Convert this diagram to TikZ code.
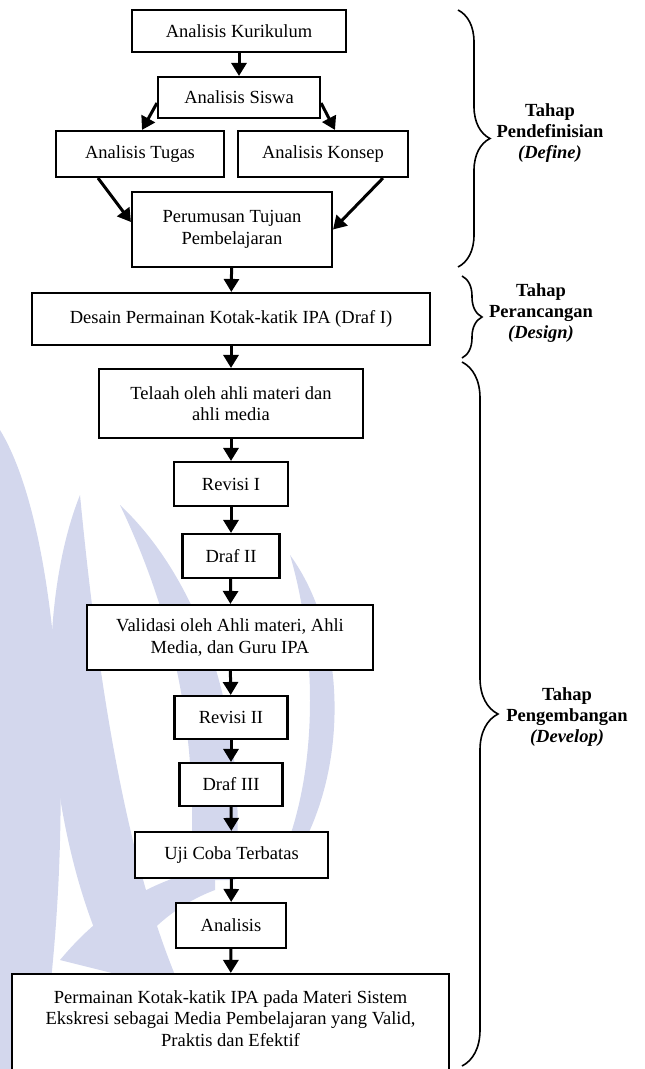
\documentclass[tikz,border=0pt]{standalone}
\usepackage{fontspec}
\setmainfont{Liberation Serif}
\usetikzlibrary{arrows.meta,decorations.pathreplacing}
\definecolor{wmark}{RGB}{211,215,237}

\begin{document}
\begin{tikzpicture}[x=1pt,y=-1pt,
    box/.style={draw,line width=2.1pt,fill=white,inner sep=0pt,align=center,
      font=\fontsize{18.5}{21.5}\selectfont},
    arr/.style={line width=3pt,-{Triangle[width=15pt,length=13pt]}},
    brc/.style={line width=1.6pt,decorate,decoration={brace,amplitude=#1}},
    lbl/.style={align=center,font=\fontsize{18.5}{21}\selectfont\bfseries}]
  \useasboundingbox (0,0) rectangle (645,1069);
  \clip (0,0) rectangle (645,1069);
  % watermark
  \fill[wmark](0,430) .. controls (55,520) and (75,760) .. (50,990) -- (14,1069) -- (0,1069) -- cycle;
  \fill[wmark](80,495) .. controls (30,620) and (45,840) .. (115,975) -- (175,975) .. controls (120,840) and (95,650) .. (80,495) -- cycle;
  \fill[wmark](120,505) .. controls (200,580) and (250,720) .. (235,880) -- (190,880) .. controls (200,740) and (175,620) .. (120,505) -- cycle;
  \fill[wmark](60,960) .. controls (110,900) and (160,880) .. (215,865) -- (215,890) .. controls (175,905) and (140,935) .. (120,975) -- cycle;
  \fill[wmark](290,555) .. controls (345,630) and (350,760) .. (300,850) -- (285,850) .. controls (320,760) and (315,640) .. (290,555) -- cycle;
  % boxes
  \foreach \n/\x/\y/\w/\h/\t in {1/239/31/214/42/{Analisis Kurikulum},
      2/239/97.5/162/41/{Analisis Siswa}, 3/140/154/168/46/{Analisis Tugas},
      4/323/154/170/46/{Analisis Konsep},
      5/232/229.5/200/75/{Perumusan Tujuan\\ Pembelajaran},
      6/231/319/398/52/{Desain Permainan Kotak-katik IPA (Draf I)},
      7/231/403.5/264/69/{Telaah oleh ahli materi dan\\ ahli media},
      8/231/484/114/44/{Revisi I}, 9/231/556/97/44/{Draf II},
      10/230/637.5/286/65/{Validasi oleh Ahli materi, Ahli\\ Media, dan Guru IPA},
      11/231/717.5/113/43/{Revisi II}, 12/231/784.5/103/43/{Draf III},
      13/231.5/855/193/46/{Uji Coba Terbatas}, 14/231/925.5/110/45/{Analisis},
      15/230.5/1040/437/132/{Permainan Kotak-katik IPA pada Materi Sistem\\ Ekskresi sebagai Media Pembelajaran yang Valid,\\ Praktis dan Efektif\\ \mbox{}\\ \mbox{}}}{
    \node[box,minimum width=\w pt,minimum height=\h pt](N\n) at(\x,\y){\t};
  }
  % arrows
  \foreach \a/\b in {1/2,5/6,6/7,7/8,8/9,9/10,10/11,11/12,12/13,13/14,14/15}{
    \draw[arr](N\a)--(N\b);
  }
  \draw[arr]([yshift=-5.5pt]N2.west)--([xshift=2pt]N3.north);
  \draw[arr]([yshift=-5.5pt]N2.east)--([xshift=12pt]N4.north);
  \draw[arr]([xshift=-42pt]N3.south)--([yshift=7.5pt]N5.west);
  \draw[arr]([xshift=60pt]N4.south)--(N5.east);
  % braces
  \draw[brc=32pt](458,10)--(458,267);
  \draw[brc=20pt](462,276)--(462,358);
  \draw[brc=36pt](462,362)--(462,1066);
  \node[lbl](L1) at(550,133){Tahap\\ Pendefinisian\\ \textit{(Define)}};
  \node[lbl](L2) at(541,313){Tahap\\ Perancangan\\ \textit{(Design)}};
  \node[lbl](L3) at(567,717){Tahap\\ Pengembangan\\ \textit{(Develop)}};
\end{tikzpicture}
\end{document}
